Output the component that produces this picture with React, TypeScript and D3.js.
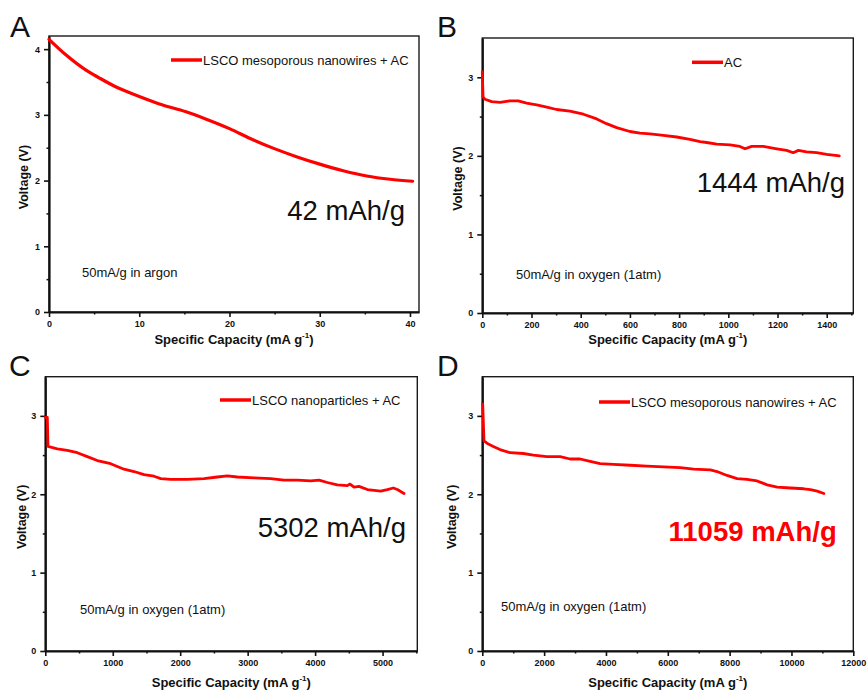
import React, { useEffect, useRef } from 'react';
import * as d3 from 'd3';

const FONT = '"Liberation Sans", Arial, Helvetica, sans-serif';
const RED = '#ff0000';

// A: LSCO mesoporous nanowires + AC, argon
const capA = [0, 1.9, 4.1, 5.6, 7.5, 10, 12.6, 15.1, 17.5, 20, 22.3, 24.9, 27.5, 30, 32.6, 35.2, 37.8, 40.3];
const voltA = [4.15, 3.91, 3.68, 3.56, 3.42, 3.28, 3.15, 3.05, 2.93, 2.79, 2.64, 2.49, 2.36, 2.25, 2.15, 2.07, 2.02, 1.99];

// B: AC, oxygen
const capB = [0, 3, 11, 38, 72, 112, 146, 180, 221, 262, 302, 356, 411, 465, 505, 546, 600, 641, 682, 736, 790, 844, 885, 912, 953, 1007, 1047, 1068, 1095, 1142, 1197, 1237, 1264, 1285, 1318, 1359, 1400, 1451];
const voltB = [3.07, 2.75, 2.72, 2.69, 2.68, 2.7, 2.7, 2.67, 2.65, 2.62, 2.59, 2.57, 2.53, 2.47, 2.41, 2.36, 2.31, 2.29, 2.28, 2.26, 2.24, 2.21, 2.18, 2.17, 2.15, 2.14, 2.12, 2.09, 2.12, 2.12, 2.09, 2.07, 2.04, 2.07, 2.05, 2.04, 2.02, 2.0];

// C: LSCO nanoparticles + AC, oxygen
const capC = [0, 30, 40, 178, 326, 474, 623, 771, 969, 1167, 1315, 1463, 1612, 1711, 1859, 2106, 2353, 2551, 2699, 2847, 3094, 3341, 3539, 3737, 3935, 4058, 4181, 4329, 4477, 4518, 4577, 4651, 4775, 4972, 5071, 5160, 5219, 5318];
const voltC = [2.98, 2.98, 2.61, 2.58, 2.56, 2.53, 2.48, 2.43, 2.39, 2.32, 2.29, 2.25, 2.23, 2.2, 2.19, 2.19, 2.2, 2.22, 2.235, 2.22, 2.21, 2.2, 2.18, 2.18, 2.17, 2.18, 2.15, 2.12, 2.11, 2.13, 2.09, 2.1, 2.06, 2.04, 2.06, 2.08, 2.06, 2.01];

// D: LSCO mesoporous nanowires + AC, oxygen
const capD = [0, 13, 55, 194, 356, 573, 897, 1328, 1652, 2086, 2517, 2841, 3165, 3489, 3813, 4244, 4785, 5326, 5864, 6404, 6835, 7376, 7592, 7916, 8241, 8565, 8889, 9213, 9537, 9968, 10400, 10616, 10832, 11048];
const voltD = [3.15, 3.15, 2.68, 2.64, 2.61, 2.57, 2.53, 2.52, 2.5, 2.48, 2.48, 2.45, 2.45, 2.42, 2.39, 2.38, 2.37, 2.36, 2.35, 2.34, 2.32, 2.31, 2.29, 2.24, 2.2, 2.19, 2.17, 2.12, 2.09, 2.08, 2.07, 2.06, 2.04, 2.01];

const xTicksA = [0, 10, 20, 30, 40];
const xTicksB = [0, 200, 400, 600, 800, 1000, 1200, 1400];
const xTicksC = [0, 1000, 2000, 3000, 4000, 5000];
const xTicksD = [0, 2000, 4000, 6000, 8000, 10000, 12000];
const yTicksA = [0, 1, 2, 3, 4];
const yTicksBCD = [0, 1, 2, 3];

const panels = [
  {
    letter: 'A', cap: capA, volt: voltA, xTicks: xTicksA, yTicks: yTicksA, xMinor: 5,
    xMax: 41.0, yMax: 4.2, left: 49, right: 419, top: 36, bottom: 312,
    legend: 'LSCO mesoporous nanowires + AC', legX: 171, legY: 60,
    big: '42 mAh/g', bigX: 405, bigY: 220, bigBold: false,
    note: '50mA/g in argon', noteX: 82, noteY: 277,
    letterX: 10, letterY: 36.5, yTitleX: 28, xTitleY: 343.5, smooth: true
  },
  {
    letter: 'B', cap: capB, volt: voltB, xTicks: xTicksB, yTicks: yTicksBCD, xMinor: 100,
    xMax: 1508, yMax: 3.5, left: 482.3, right: 853.3, top: 38, bottom: 313,
    legend: 'AC', legX: 692, legY: 62.3,
    big: '1444 mAh/g', bigX: 845, bigY: 191.7, bigBold: false,
    note: '50mA/g in oxygen (1atm)', noteX: 516, noteY: 279.3,
    letterX: 437, letterY: 36.7, yTitleX: 461.5, xTitleY: 344, smooth: false
  },
  {
    letter: 'C', cap: capC, volt: voltC, xTicks: xTicksC, yTicks: yTicksBCD, xMinor: 500,
    xMax: 5515, yMax: 3.5, left: 45.3, right: 417.3, top: 376.7, bottom: 651,
    legend: 'LSCO nanoparticles + AC', legX: 220, legY: 400,
    big: '5302 mAh/g', bigX: 406, bigY: 536.7, bigBold: false,
    note: '50mA/g in oxygen (1atm)', noteX: 80, noteY: 614.3,
    letterX: 9, letterY: 375.7, yTitleX: 26, xTitleY: 687.3, smooth: false
  },
  {
    letter: 'D', cap: capD, volt: voltD, xTicks: xTicksD, yTicks: yTicksBCD, xMinor: 1000,
    xMax: 12000, yMax: 3.5, left: 482.3, right: 853.3, top: 376.7, bottom: 651,
    legend: 'LSCO mesoporous nanowires + AC', legX: 599, legY: 402,
    big: '11059 mAh/g', bigX: 836.7, bigY: 541, bigBold: true,
    note: '50mA/g in oxygen (1atm)', noteX: 501, noteY: 610.7,
    letterX: 437, letterY: 375.5, yTitleX: 456, xTitleY: 687.3, smooth: false
  }
];

export default function App() {
  const ref = useRef<SVGSVGElement | null>(null);

  useEffect(() => {
    const svg = d3.select(ref.current);
    svg.selectAll('*').remove();

    panels.forEach(p => {
      const x = d3.scaleLinear().domain([0, p.xMax]).range([p.left, p.right]);
      const y = d3.scaleLinear().domain([0, p.yMax]).range([p.bottom, p.top]);
      const g = svg.append('g').attr('font-family', FONT);

      // frame (top / right thinner)
      g.append('rect').attr('x', p.left).attr('y', p.top)
        .attr('width', p.right - p.left).attr('height', p.bottom - p.top)
        .attr('fill', 'none').attr('stroke', '#1a1a1a').attr('stroke-width', 1.4);

      // minor ticks
      const xMinorVals = d3.range(p.xMinor, p.xMax, p.xMinor).filter(v => !p.xTicks.includes(v));
      const yMinorVals = d3.range(0.5, p.yMax, 1);
      g.append('g').attr('transform', `translate(0,${p.bottom})`)
        .call(d3.axisBottom(x).tickValues(xMinorVals).tickSize(2.5).tickFormat(() => ''))
        .call(a => a.select('.domain').remove())
        .selectAll('line').attr('stroke', '#111').attr('stroke-width', 1.5);
      g.append('g').attr('transform', `translate(${p.left},0)`)
        .call(d3.axisLeft(y).tickValues(yMinorVals).tickSize(2.5).tickFormat(() => ''))
        .call(a => a.select('.domain').remove())
        .selectAll('line').attr('stroke', '#111').attr('stroke-width', 1.5);

      // major axes
      const xa = g.append('g').attr('transform', `translate(0,${p.bottom})`)
        .call(d3.axisBottom(x).tickValues(p.xTicks).tickSize(5).tickSizeOuter(0).tickPadding(4).tickFormat(d3.format('d')));
      const ya = g.append('g').attr('transform', `translate(${p.left},0)`)
        .call(d3.axisLeft(y).tickValues(p.yTicks).tickSize(5).tickSizeOuter(0).tickPadding(4).tickFormat(d3.format('d')));
      [xa, ya].forEach(a => {
        a.select('.domain').attr('stroke', '#111').attr('stroke-width', 2.2);
        a.selectAll('.tick line').attr('stroke', '#111').attr('stroke-width', 1.6);
        a.selectAll('.tick text').attr('fill', '#111').attr('font-family', FONT)
          .attr('font-size', 9).attr('font-weight', 700);
      });

      // data curve
      const pts = p.cap.map((c, i) => [c, p.volt[i]] as [number, number]);
      const line = d3.line<[number, number]>().x(d => x(d[0])).y(d => y(d[1]))
        .curve(p.smooth ? d3.curveMonotoneX : d3.curveLinear);
      g.append('path').datum(pts).attr('d', line).attr('fill', 'none')
        .attr('stroke', RED).attr('stroke-width', p.smooth ? 3.2 : 2.8)
        .attr('stroke-linejoin', 'round').attr('stroke-linecap', 'round');

      // legend
      g.append('line').attr('x1', p.legX).attr('x2', p.legX + 31).attr('y1', p.legY).attr('y2', p.legY)
        .attr('stroke', RED).attr('stroke-width', 3.5);
      g.append('text').attr('x', p.legX + 32).attr('y', p.legY + 5).attr('font-size', 13)
        .attr('fill', '#111').text(p.legend);

      // capacity annotation
      g.append('text').attr('x', p.bigX).attr('y', p.bigY).attr('text-anchor', 'end')
        .attr('font-size', 27.5).attr('font-weight', p.bigBold ? 700 : 400)
        .attr('fill', p.bigBold ? RED : '#111').text(p.big);

      // condition note
      g.append('text').attr('x', p.noteX).attr('y', p.noteY).attr('font-size', 13)
        .attr('fill', '#111').text(p.note);

      // panel letter
      g.append('text').attr('x', p.letterX).attr('y', p.letterY).attr('font-size', 30)
        .attr('fill', '#111').text(p.letter);

      // axis titles
      g.append('text')
        .attr('transform', `translate(${p.yTitleX},${(p.top + p.bottom) / 2 + 3}) rotate(-90)`)
        .attr('text-anchor', 'middle').attr('font-size', 12.5).attr('font-weight', 700)
        .attr('fill', '#111').text('Voltage (V)');
      const xt = g.append('text').attr('x', (p.left + p.right) / 2).attr('y', p.xTitleY)
        .attr('text-anchor', 'middle').attr('font-size', 13).attr('font-weight', 700).attr('fill', '#111');
      xt.append('tspan').text('Specific Capacity (mA g');
      xt.append('tspan').attr('font-size', 8).attr('dy', -6).text('-1');
      xt.append('tspan').attr('dy', 6).text(')');
    });
  }, []);

  return (
    <div style={{ position: 'absolute', left: 0, top: 0, width: 868, height: 690, background: '#fff' }}>
      <svg ref={ref} width={868} height={690} style={{ display: 'block' }} />
    </div>
  );
}
